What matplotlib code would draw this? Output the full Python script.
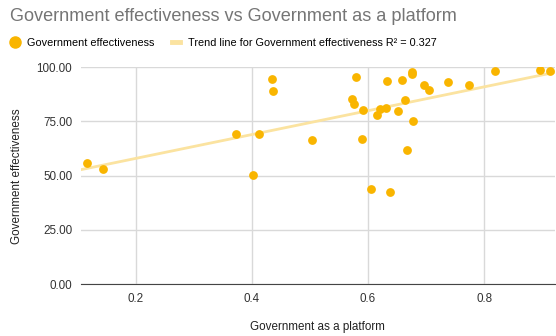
import numpy as np
import matplotlib
matplotlib.use('Agg')
import matplotlib.pyplot as plt
from matplotlib.lines import Line2D

# nilai
platform = [0.116, 0.144, 0.373, 0.402, 0.412, 0.435, 0.436, 0.504,
            0.572, 0.576, 0.579, 0.590, 0.592, 0.606, 0.616, 0.620,
            0.631, 0.632, 0.638, 0.651, 0.659, 0.664, 0.667, 0.675,
            0.676, 0.678, 0.696, 0.705, 0.738, 0.774, 0.818, 0.897, 0.914]
effectiveness = [55.8, 53.3, 69.4, 50.4, 69.1, 94.5, 89.2, 66.4,
                 85.5, 83.2, 95.4, 67.1, 80.5, 43.9, 78.0, 80.8,
                 81.2, 93.5, 42.5, 79.9, 94.0, 85.1, 61.9, 97.7,
                 96.8, 75.1, 92.0, 89.7, 93.1, 91.7, 98.3, 98.8, 98.3]
yticks = [0, 25, 50, 75, 100]
xticks = [0.2, 0.4, 0.6, 0.8]

plt.rcParams['font.family'] = ['Liberation Sans', 'DejaVu Sans']

fig = plt.figure(figsize=(5.56, 3.36), dpi=100)
ax = fig.add_axes([0.145, 0.154, 0.853, 0.646])

x = np.array(platform)
y = np.array(effectiveness)
k, b = np.polyfit(x, y, 1)  # garis tren
xlim = (0.105, 0.922)
xs = np.array(xlim)
ax.plot(xs, k * xs + b, color='#fbe3a0', lw=2, zorder=2)
ax.scatter(x, y, s=40, color='#f9b500', zorder=3, linewidths=0)

ax.set_xlim(*xlim)
ax.set_ylim(0, 100)
ax.set_xticks(xticks)
ax.set_xticklabels(['0.2', '0.4', '0.6', '0.8'])
ax.set_yticks(yticks)
ax.set_yticklabels(['%.2f' % v for v in yticks])
ax.grid(True, color='#d9d9d9', lw=1)
ax.set_axisbelow(True)
for s in ['top', 'right', 'left']:
    ax.spines[s].set_visible(False)
ax.spines['bottom'].set_color('#444444')
ax.tick_params(length=0, labelsize=8.4, colors='#333333')
ax.tick_params(axis='y', pad=6)
ax.tick_params(axis='x', pad=6)
ax.set_xlabel('Government as a platform', fontsize=8.4, color='#222222', labelpad=12)
ax.set_ylabel('Government effectiveness', fontsize=8.4, color='#222222', labelpad=10)

fig.text(0.018, 0.952, 'Government effectiveness vs Government as a platform',
         fontsize=13.1, color='#757575', va='center', ha='left')

handles = [Line2D([], [], marker='o', ls='', color='#f9b500', markersize=8),
           Line2D([], [], color='#fbe3a0', lw=3.5)]
labels = ['Government effectiveness',
          'Trend line for Government effectiveness R\u00b2 = 0.327']
fig.legend(handles, labels, loc='center left', bbox_to_anchor=(0.012, 0.872),
           ncol=2, frameon=False, fontsize=7.8, handlelength=0.7,
           handletextpad=0.8, columnspacing=1.6, borderaxespad=0)

fig.savefig('out.png', dpi=100)
